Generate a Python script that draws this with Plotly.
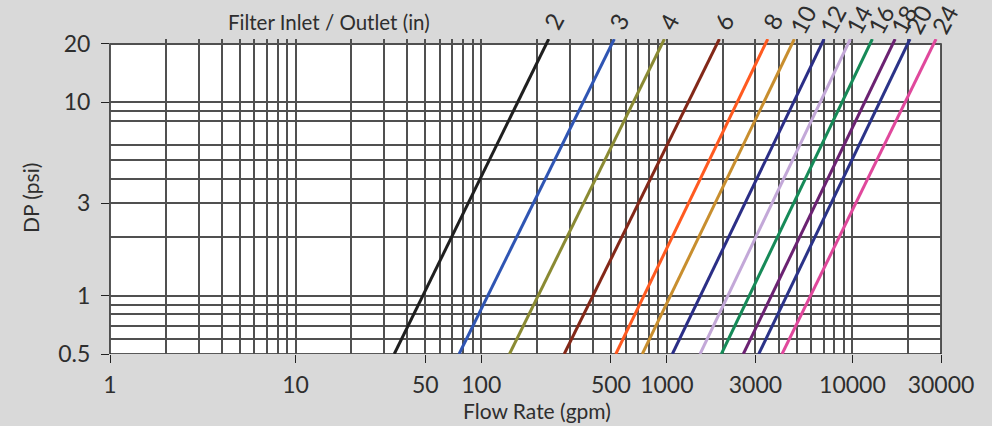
import numpy as np
import plotly.graph_objects as go

# ---- data ----
sizes = ["2", "3", "4", "6", "8", "10", "12", "14", "16", "18", "20", "24"]
dp_low = 0.5      # psi at lower end of each line
dp_high = 21.2    # psi at upper end of each line
flow_low = [34, 76, 142, 280, 531, 738, 1071, 1510, 1967, 2583, 3127, 4176]
flow_high = [231, 521, 970, 1919, 3497, 4864, 7031, 9745, 12800, 16980, 20420, 28200]
colors = ["#1f1f1f", "#2f55b3", "#8a8a33", "#832818", "#ff5a20", "#c88e2e",
          "#2b2e86", "#c3a8d8", "#168a58", "#6b2272", "#2b3388", "#e0489c"]

x_ticks = [1, 10, 50, 100, 500, 1000, 3000, 10000, 30000]
x_ticktext = ["1", "10", "50", "100", "500", "1000", "3000", "10000", "30000"]
x_grid = [k * 10 ** n for n in range(0, 5) for k in range(2, 10) if k * 10 ** n <= 30000]
y_ticks = [0.5, 1, 3, 10, 20]
y_ticktext = ["0.5", "1", "3", "10", "20"]
y_grid = [0.6, 0.7, 0.8, 0.9, 2, 4, 5, 6, 8, 9]
x_min, x_max = 1, 30000
y_min, y_max_frame, y_max_axis = 0.5, 20, 21.2

FONT = "Lato"
TXT = "#2e2e2e"
BG = "#d9d9d9"
GRID = "#505050"

fig = go.Figure()
for s, f0, f1, c in zip(sizes, flow_low, flow_high, colors):
    fig.add_trace(go.Scatter(x=[f0, f1], y=[dp_low, dp_high], mode="lines",
                             line=dict(color=c, width=3), name=s,
                             showlegend=False, hoverinfo="skip"))

# rotated size labels at the top ends of the lines
for s, f1 in zip(sizes, flow_high):
    two = len(s) > 1
    fig.add_annotation(x=np.log10(f1), y=np.log10(dp_high), xref="x", yref="y",
                       text=s, showarrow=False, textangle=-62,
                       xanchor="center", yanchor="middle",
                       xshift=8 if two else 4, yshift=20 if two else 18,
                       font=dict(family=FONT, size=24, color=TXT))

# cover the strip above the frame (above grid, below traces) and draw the frame
fig.add_shape(type="rect", xref="paper", yref="y", x0=0, x1=1,
              y0=y_max_frame, y1=y_max_axis * 1.05,
              fillcolor=BG, line=dict(width=0), layer="between")
fig.add_shape(type="rect", xref="paper", yref="y", x0=0, x1=1,
              y0=y_min, y1=y_max_frame,
              line=dict(color="#222222", width=1.5), layer="between")

fig.add_annotation(xref="paper", yref="paper", x=0.2635, y=1.054,
                   text="Filter Inlet / Outlet (in)", showarrow=False,
                   xanchor="center", yanchor="middle",
                   font=dict(family=FONT, size=20.5, color=TXT))
fig.add_annotation(xref="paper", yref="paper", x=0.514, y=-0.18,
                   text="Flow Rate (gpm)", showarrow=False,
                   xanchor="center", yanchor="middle",
                   font=dict(family=FONT, size=21, color=TXT))
fig.add_annotation(xref="paper", yref="paper", x=-0.0963, y=0.495,
                   text="DP (psi)", showarrow=False, textangle=-90,
                   xanchor="center", yanchor="middle",
                   font=dict(family=FONT, size=21, color=TXT))

fig.update_xaxes(type="log", range=[np.log10(x_min), np.log10(x_max)],
                 tickvals=x_ticks, ticktext=x_ticktext, automargin=False,
                 ticks="outside", ticklen=8, tickcolor="#222222", tickwidth=1,
                 showline=False, zeroline=False,
                 showgrid=True, gridcolor=GRID, gridwidth=1.5,
                 ticklabelstandoff=2,
                 tickfont=dict(family=FONT, size=23, color=TXT),
                 minor=dict(tickvals=x_grid, showgrid=True, gridcolor=GRID,
                            gridwidth=1.5, ticks=""))
fig.update_yaxes(type="log", range=[np.log10(y_min), np.log10(y_max_axis)],
                 tickvals=y_ticks, ticktext=y_ticktext, automargin=False,
                 ticks="outside", ticklen=8, tickcolor="#222222", tickwidth=1,
                 showline=False, zeroline=False,
                 showgrid=True, gridcolor=GRID, gridwidth=1.5,
                 ticklabelstandoff=6,
                 tickfont=dict(family=FONT, size=23, color=TXT),
                 minor=dict(tickvals=y_grid, showgrid=True, gridcolor=GRID,
                            gridwidth=1.5, ticks=""))

fig.update_layout(width=992, height=426,
                  margin=dict(l=110, r=51, t=39, b=72, autoexpand=False),
                  paper_bgcolor=BG, plot_bgcolor="#ffffff",
                  showlegend=False)

fig.write_html("out.html", config={"displayModeBar": False},
               post_script="document.body.style.margin='0';"
                           "document.body.style.background='#d9d9d9';")
